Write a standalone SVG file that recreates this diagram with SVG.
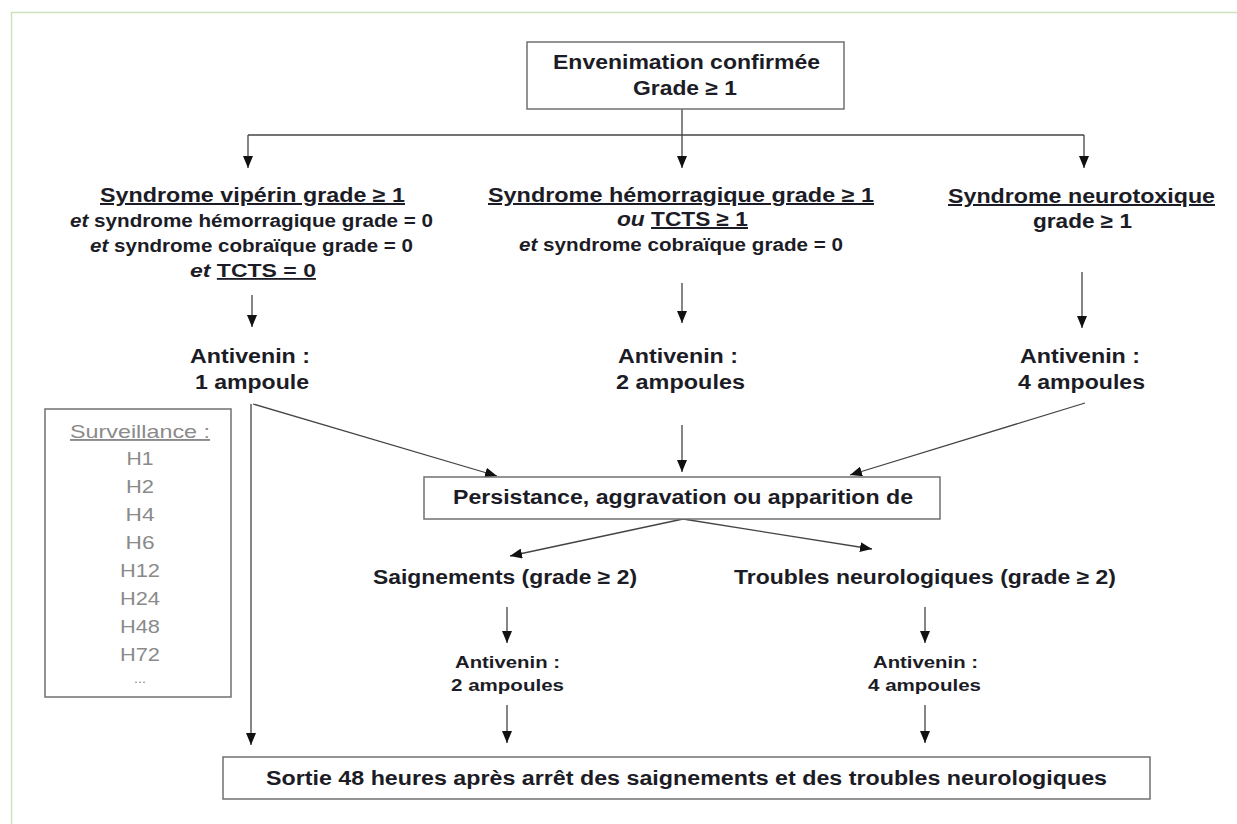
<svg xmlns="http://www.w3.org/2000/svg" width="1237" height="824" viewBox="0 0 1237 824">
<defs>
<marker id="ah" viewBox="0 0 12 10" refX="12" refY="5" markerWidth="12" markerHeight="10" markerUnits="userSpaceOnUse" orient="auto">
<path d="M0,0 L12,5 L0,10 Z" fill="#111"/>
</marker>
<style>
.t{font-family:"Liberation Sans",Arial,sans-serif;font-weight:bold;fill:#1c1c26;}
.b{font-size:20px;}
.s{font-size:18px;}
.xs{font-size:17px;}
.g{font-family:"Liberation Sans",Arial,sans-serif;font-size:19px;fill:#8a8a8a;}
.u{text-decoration:underline;}
.i{font-style:italic;}
.box{fill:#fff;stroke:#707070;stroke-width:1.5;}
.c{fill:none;stroke:#444;stroke-width:1.3;}
.a{marker-end:url(#ah);}
</style>
</defs>
<rect x="0" y="0" width="1237" height="824" fill="#fff"/>
<rect x="11.5" y="12.5" width="1240" height="830" fill="none" stroke="#cde3bd" stroke-width="1.5"/>

<g id="connectors">
<line class="c a" x1="682" y1="109" x2="682" y2="168"/>
<line class="c" x1="248" y1="135" x2="1084" y2="135"/>
<line class="c a" x1="248" y1="135" x2="248" y2="168"/>
<line class="c a" x1="1084" y1="135" x2="1084" y2="168"/>
<line class="c a" x1="252" y1="295" x2="252" y2="327"/>
<line class="c a" x1="682" y1="283" x2="682" y2="323"/>
<line class="c a" x1="1082" y1="272" x2="1082" y2="328"/>
<line class="c a" x1="253" y1="404" x2="497" y2="476"/>
<line class="c a" x1="251" y1="404" x2="251" y2="745"/>
<line class="c a" x1="682" y1="425" x2="682" y2="472"/>
<line class="c a" x1="1085" y1="403" x2="850" y2="475"/>
<line class="c a" x1="683" y1="519" x2="510" y2="556"/>
<line class="c a" x1="683" y1="519" x2="872" y2="549"/>
<line class="c a" x1="507" y1="607" x2="507" y2="643"/>
<line class="c a" x1="925" y1="607" x2="925" y2="643"/>
<line class="c a" x1="507" y1="705" x2="507" y2="743"/>
<line class="c a" x1="925" y1="705" x2="925" y2="743"/>
</g>

<g id="n-envenimation">
<rect class="box" x="527" y="42" width="317" height="67"/>
<text class="t b" x="553" y="69" textLength="267" lengthAdjust="spacingAndGlyphs">Envenimation confirmée</text>
<text class="t b" x="633" y="95" textLength="104" lengthAdjust="spacingAndGlyphs">Grade ≥ 1</text>
</g>

<g id="n-viperin">
<text class="t b u" x="100" y="202" textLength="305" lengthAdjust="spacingAndGlyphs">Syndrome vipérin grade ≥ 1</text>
<text class="t s" x="70" y="227" textLength="363" lengthAdjust="spacingAndGlyphs"><tspan class="i">et</tspan> syndrome hémorragique grade = 0</text>
<text class="t s" x="90" y="252" textLength="323" lengthAdjust="spacingAndGlyphs"><tspan class="i">et</tspan> syndrome cobraïque grade = 0</text>
<text class="t s" x="190" y="277" textLength="126" lengthAdjust="spacingAndGlyphs"><tspan class="i">et</tspan> <tspan class="u">TCTS = 0</tspan></text>
</g>

<g id="n-hemorragique">
<text class="t b u" x="488" y="202" textLength="386" lengthAdjust="spacingAndGlyphs">Syndrome hémorragique grade ≥ 1</text>
<text class="t b" x="617" y="226" textLength="131" lengthAdjust="spacingAndGlyphs"><tspan class="i">ou</tspan> <tspan class="u">TCTS ≥ 1</tspan></text>
<text class="t s" x="519" y="251" textLength="324" lengthAdjust="spacingAndGlyphs"><tspan class="i">et</tspan> syndrome cobraïque grade = 0</text>
</g>

<g id="n-neurotoxique">
<text class="t b u" x="948" y="203" textLength="267" lengthAdjust="spacingAndGlyphs">Syndrome neurotoxique</text>
<text class="t b" x="1033" y="228" textLength="99" lengthAdjust="spacingAndGlyphs">grade ≥ 1</text>
</g>

<g id="n-antivenin1">
<text class="t b" x="190" y="363" textLength="120" lengthAdjust="spacingAndGlyphs">Antivenin :</text>
<text class="t b" x="195" y="389" textLength="114" lengthAdjust="spacingAndGlyphs">1 ampoule</text>
</g>
<g id="n-antivenin2">
<text class="t b" x="618" y="363" textLength="120" lengthAdjust="spacingAndGlyphs">Antivenin :</text>
<text class="t b" x="616" y="389" textLength="129" lengthAdjust="spacingAndGlyphs">2 ampoules</text>
</g>
<g id="n-antivenin4">
<text class="t b" x="1020" y="363" textLength="120" lengthAdjust="spacingAndGlyphs">Antivenin :</text>
<text class="t b" x="1018" y="389" textLength="127" lengthAdjust="spacingAndGlyphs">4 ampoules</text>
</g>

<g id="n-surveillance">
<rect class="box" x="45" y="409" width="186" height="288"/>
<text class="g u" x="70" y="438" textLength="140" lengthAdjust="spacingAndGlyphs">Surveillance :</text>
<text class="g" x="126.5" y="465" textLength="27" lengthAdjust="spacingAndGlyphs">H1</text>
<text class="g" x="126" y="493" textLength="28" lengthAdjust="spacingAndGlyphs">H2</text>
<text class="g" x="125.5" y="521" textLength="29" lengthAdjust="spacingAndGlyphs">H4</text>
<text class="g" x="125.5" y="549" textLength="29" lengthAdjust="spacingAndGlyphs">H6</text>
<text class="g" x="120" y="577" textLength="40" lengthAdjust="spacingAndGlyphs">H12</text>
<text class="g" x="120" y="605" textLength="40" lengthAdjust="spacingAndGlyphs">H24</text>
<text class="g" x="120" y="633" textLength="40" lengthAdjust="spacingAndGlyphs">H48</text>
<text class="g" x="120" y="661" textLength="40" lengthAdjust="spacingAndGlyphs">H72</text>
<text class="g" x="134" y="683" textLength="12" lengthAdjust="spacingAndGlyphs" style="font-size:13px">...</text>
</g>

<g id="n-persistance">
<rect class="box" x="424" y="477" width="516" height="42"/>
<text class="t b" x="453" y="504" textLength="460" lengthAdjust="spacingAndGlyphs">Persistance, aggravation ou apparition de</text>
</g>

<g id="n-saignements">
<text class="t b" x="373" y="584" textLength="264" lengthAdjust="spacingAndGlyphs">Saignements (grade ≥ 2)</text>
</g>
<g id="n-troubles">
<text class="t b" x="734" y="584" textLength="382" lengthAdjust="spacingAndGlyphs">Troubles neurologiques (grade ≥ 2)</text>
</g>

<g id="n-antivenin2b">
<text class="t xs" x="455" y="668" textLength="105" lengthAdjust="spacingAndGlyphs">Antivenin :</text>
<text class="t xs" x="451" y="691" textLength="113" lengthAdjust="spacingAndGlyphs">2 ampoules</text>
</g>
<g id="n-antivenin4b">
<text class="t xs" x="873" y="668" textLength="105" lengthAdjust="spacingAndGlyphs">Antivenin :</text>
<text class="t xs" x="868" y="691" textLength="113" lengthAdjust="spacingAndGlyphs">4 ampoules</text>
</g>

<g id="n-sortie">
<rect class="box" x="223" y="757" width="927" height="42"/>
<text class="t b" x="266" y="785" textLength="841" lengthAdjust="spacingAndGlyphs">Sortie 48 heures après arrêt des saignements et des troubles neurologiques</text>
</g>
</svg>
